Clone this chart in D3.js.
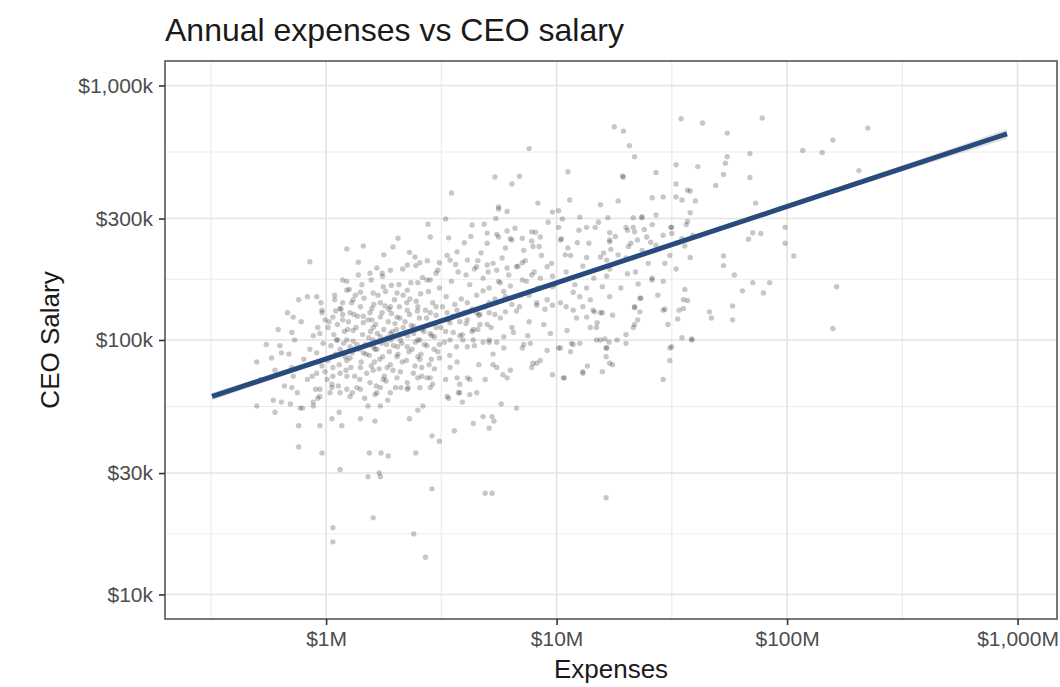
<!DOCTYPE html>
<html>
<head>
<meta charset="utf-8">
<script src="https://cdn.jsdelivr.net/npm/d3@7"></script>
<style>
  html, body { margin: 0; padding: 0; background: #fff; }
  svg { display: block; font-family: "Liberation Sans", Arial, Helvetica, sans-serif; }
</style>
</head>
<body>
<svg id="chart" width="1060" height="687"></svg>
<script>
// ---- Data (expenses in $M, CEO salary in $k) ----
const titleText = "Annual expenses vs CEO salary";
const xTitle = "Expenses";
const yTitle = "CEO Salary";

const xTickValues = [1, 10, 100, 1000];
const xTickLabels = ["$1M", "$10M", "$100M", "$1,000M"];
const yTickValues = [10, 30, 100, 300, 1000];
const yTickLabels = ["$10k", "$30k", "$100k", "$300k", "$1,000k"];

// linear fit on log-log scale, with its confidence band
const smoothExpenses = [0.32, 3, 30, 300, 900];
const smoothFit      = [60, 117, 233, 465, 646];
const smoothLower    = [58, 115.5, 230, 452, 618];
const smoothUpper    = [62, 118.5, 236, 478, 675];

// organisations: [expenses $M, CEO salary $k]
const points = [
 [17.8,688],[19.5,662],[20.7,580],[21.8,525],[34.7,740],[43,712],[78,745],[55,650],[158,610],[224,680],
 [117,555],[142,545],[69,540],[55,525],[54,495],[33,488],[41,480],[19.5,437],[27,455],[53,447],
 [69,435],[205,463],[49,405],[33,410],[37,388],[38,385],[26,362],[29,365],[33,365],[35,355],
 [40,352],[18.5,352],[15.5,340],[38,316],[73,345],[27,310],[21.5,302],[23.5,305],[16.7,302],[37,292],
 [36.5,284],[31.3,277],[26,284],[98,277],[98,240],[71,264],[77,262],[68,249],[31.6,262],[24,272],
 [21.8,266],[20.3,270],[17,264],[17,247],[36,234],[25.6,242],[17.2,227],[53,214],[53,196],[107,214],
 [59,180],[29.5,200],[20.3,182],[16.5,178],[15.8,162],[26,175],[22.6,166],[36,158],[37,143],[164,162],
 [71,168],[84,168],[64,156],[79,153],[23.2,146],[21.8,135],[23,129],[29.5,132],[35.5,133],[58,136],
 [46,129],[47,122],[33.5,121],[58,120],[15.5,128],[21.5,112],[30.4,115],[158,111],[20,105],[20,97],
 [16.2,101],[16.9,98],[35,102],[38.5,101],[17.5,80],[16.4,86],[31.6,94],[31,83],[29,70],
 [7.6,565],[11.2,458],[5.4,437],[6.9,440],[6.4,410],[3.5,378],[19.3,440],[5.6,333],[5.6,327],[8.3,345],
 [9.6,318],[10.2,322],[11.4,355],[2.77,285],[3.3,299],[4.3,283],[2.83,254],[3.4,252],[3.98,241],[5.0,263],
 [5.6,254],[6.1,268],[6.4,247],[7.1,251],[7.8,266],[8.5,254],[7.9,233],[8.4,233],[10.2,277],[10.4,247],
 [10.6,299],[12.6,304],[13.5,277],[14.7,277],[20,277],[21.5,277],[23.4,302],[17,243],[12.3,241],[11.2,230],
 [10.9,216],[13.5,211],[15.5,212],[16.5,206],[18.5,216],[20.5,233],[22.4,247],[24.6,254],[29,258],[31.6,277],
 [39,258],[33,240],[38,211],
 [1.45,234],[1.23,170],[1.38,202],[1.66,192],[1.78,216],[1.95,232],[2.05,251],[2.3,221],[2.43,212],[2.55,201],
 [2.25,197],[1.9,188],[1.75,183],[1.55,183],[1.41,154],[1.6,153],[1.77,162],[2.03,153],[2.25,157],[2.5,168],
 [2.74,172],[3.0,183],[3.1,201],[3.45,206],[3.7,222],[4.1,206],[4.5,194],[5.0,197],[5.5,188],[6.1,192],
 [6.7,194],[7.1,201],[7.8,180],[8.5,175],[9.1,194],[9.6,178],[9.6,162],[8.2,140],[9.1,144],[10.4,140],
 [11.8,154],[12.6,148],[14,144],[14.4,131],[15.8,128],[17,148],[13.5,123],[11.8,131],[11.1,109],[9.4,106],
 [10.4,93],[11.8,96],[12.6,97],[14.9,112],[14.9,100],[16.5,93],[18.3,100],[21.8,134],[23,146],[25.9,172],
 [29,131],[31,93],[34,131],[35.5,144],[38.7,100],[17,81],[13.6,79],[13,74],[10.7,71],[9.6,73],
 [8.2,81],[7.8,78],[7.1,93],[6.5,107],[5.9,103],[5.5,98],[5.1,100],[4.8,98],[4.35,100],[4.1,94],
 [3.9,105],[3.45,100],[3.1,85],[3.45,78],[3.7,71],[4.1,71],[4.6,80],[5.3,80],[5.85,73],[6.3,76],
 [4.2,61],[3.75,62],[3.35,60],[4.5,62],[2.9,67],[2.74,71],[2.6,78],[2.5,86],[2.25,94],[2.4,106],
 [2.16,112],[2.03,123],[2.25,131],[2.5,135],[2.83,128],[3.0,135],[3.35,128],[3.7,131],[4.1,120],[4.5,128],
 [5.1,128],[5.0,115],[4.35,110],[3.45,117],[3.0,112],[2.83,106],[2.55,100],[2.1,100],[1.9,106],[1.72,103],
 [1.6,94],[1.45,89],[1.3,89],[1.23,83],[1.41,78],[1.6,76],[1.84,78],[2.03,86],[2.03,71],[1.77,70],
 [1.55,68],[1.36,65],[1.23,64],[1.66,62],[1.9,62],[2.25,64],[2.5,71],[1.27,128],[1.41,135],[1.55,128],
 [1.72,140],[1.9,135],[1.31,144],[1.18,140],[1.18,120],[1.31,109],[1.45,117],[1.6,112],[1.23,100],
 [0.5,82],[0.58,85],[0.63,95],[0.64,89],[0.68,128],[0.72,123],[0.71,107],[0.71,65],[0.59,58],[0.64,57],
 [0.5,55],[0.6,52],[0.79,54],[0.88,55],[0.76,46],[0.94,46],[0.76,38],[0.96,36],[0.96,131],[0.94,106],
 [0.91,89],[0.87,72],[0.94,64],[0.92,59],[1.06,49],[1.14,52],[1.17,46],[1.41,49],[1.52,55],[1.72,55],
 [1.63,48],[1.54,36],[1.73,36],[1.86,35],[2.45,36],[2.3,49],[2.5,53],[2.63,55],[2.88,42],[3.1,40],
 [3.4,59],[3.6,44],[3.8,62],[3.9,57],[4.35,47],[4.8,50],[5.25,50],[5.35,48],[5.1,45],[5.75,56],
 [6.7,54],[1.15,31],[1.52,29],[1.7,30],[1.72,29],[2.88,26],[4.9,25],[5.25,25],[16.4,24],[1.07,18.3],
 [1.07,16.1],[1.6,20],[2.4,17.3],[2.7,14],[10.8,71],[13,75],[15.8,75],[16.4,93],[21.8,115],[15.5,100],
 [15,117],[14.6,129],[13,135],[11.5,90],[11.6,97],[10.2,93],[9.1,91],[7.9,81],[8.5,83],[7.7,97],
 [7.2,96],[5.9,93],[6.1,71],[5.5,78],[4.9,70],[4.2,70],[3.8,67],[2.83,71],[2.83,65],[2.55,65],
 [2.27,65],[2.11,65],[2.0,65],[1.72,65],[1.63,61],[1.41,64],[1.27,60],[1.15,62],[1.06,65],[9.6,137],
 [8.2,137],[6.9,135],[6.0,129],[4.65,126],[4.65,115],[5.1,98],
 [1.23,228],[0.85,203],[1.18,172],[1.23,157],[0.76,144],[0.83,148],[0.91,148],[1.09,144],[1.15,133],[0.96,128],
 [0.99,120],[1.07,123],[0.92,112],[1.02,112],[1.12,100],[1.27,94],[1.18,89],[0.71,78],[0.72,72],[0.91,74],
 [0.96,79],[1.01,70],[1.06,67],[1.07,78],[1.15,74],[1.23,72],[1.04,62],[0.94,60],[0.88,57],[0.77,54],
 [0.7,56],
 // dense core, $1M-$2M
 [1.05,95],[1.08,105],[1.1,88],[1.12,115],[1.14,80],[1.16,132],[1.19,97],[1.2,108],[1.22,76],[1.25,118],
 [1.27,85],[1.29,140],[1.31,99],[1.33,72],[1.35,112],[1.37,124],[1.39,92],[1.42,82],[1.44,105],[1.46,146],
 [1.48,96],[1.5,74],[1.52,120],[1.54,87],[1.56,108],[1.58,133],[1.6,100],[1.62,82],[1.64,115],[1.66,92],
 [1.68,150],[1.7,77],[1.72,123],[1.74,97],[1.76,86],[1.78,110],[1.8,136],[1.82,69],[1.84,102],[1.86,118],
 [1.88,90],[1.9,80],[1.92,127],[1.94,108],[1.96,95],[1.98,144],[1.13,66],[1.3,62],[1.47,59],[1.65,66],
 [1.85,58],[1.02,83],[1.18,126],[1.43,165],[1.57,172],[1.76,178],[1.92,164],[1.09,150],[1.26,158],[1.38,180],
 [1.03,118],[1.07,72],[1.11,100],[1.15,92],[1.21,86],[1.24,110],[1.28,78],[1.32,126],[1.36,96],[1.4,70],
 [1.45,124],[1.49,88],[1.53,102],[1.57,79],[1.61,138],[1.63,92],[1.67,106],[1.71,84],[1.75,128],[1.79,72],
 [1.83,96],[1.87,132],[1.91,100],[1.95,76],[1.99,116],[1.1,130],[1.34,150],[1.58,120],[1.81,155],
 // $2M-$4M
 [2.02,110],[2.05,88],[2.08,135],[2.1,75],[2.13,97],[2.16,150],[2.2,118],[2.23,83],[2.26,104],[2.3,126],
 [2.33,168],[2.36,92],[2.4,113],[2.43,79],[2.46,142],[2.5,100],[2.54,122],[2.58,88],[2.62,176],[2.66,108],
 [2.7,131],[2.74,95],[2.78,155],[2.82,115],[2.86,84],[2.9,140],[2.95,103],[3.0,125],[3.05,90],[3.1,160],
 [3.15,112],[3.2,135],[3.26,98],[3.32,148],[3.38,120],[3.44,87],[3.5,170],[3.56,107],[3.62,138],[3.68,94],
 [3.74,185],[3.8,118],[3.86,145],[3.92,100],[3.98,128],[2.15,190],[2.45,196],[2.75,205],[3.05,188],[3.35,215],
 [3.65,198],[2.25,68],[2.6,72],[2.95,77],[3.3,70],[3.7,82],
 [2.04,94],[2.09,122],[2.14,82],[2.19,106],[2.24,140],[2.29,90],[2.34,114],[2.39,74],[2.44,98],[2.49,130],
 [2.55,84],[2.61,110],[2.67,96],[2.73,122],[2.8,80],[2.87,104],[2.94,92],[2.07,165],[2.31,145],[2.57,152],
 [2.83,172],[3.1,96],[3.3,108],[3.55,124],[3.8,104],
 // $4M-$10M
 [4.1,140],[4.2,165],[4.3,108],[4.4,190],[4.5,150],[4.6,125],[4.7,220],[4.8,175],[4.9,135],[5.0,240],
 [5.1,160],[5.2,112],[5.3,200],[5.4,145],[5.5,260],[5.6,170],[5.7,122],[5.8,210],[5.9,155],[6.0,230],
 [6.2,180],[6.4,138],[6.6,275],[6.8,195],[7.0,150],[7.2,225],[7.4,170],[7.6,118],[7.8,245],[8.0,185],
 [8.3,160],[8.6,215],[8.9,132],[9.2,290],[9.5,200],[9.8,165],[4.25,255],[4.85,285],[5.45,300],[6.1,320],
 [4.05,180],[4.55,205],[5.05,185],[6.3,250],[7.3,205],[8.1,265],[4.4,95],[5.3,88],[6.4,112],[7.5,104],
 [8.8,115],[4.05,116],[4.3,132],[4.55,110],[4.8,156],[5.1,140],[5.4,126],[5.7,168],[6.0,148],[6.3,163],
 [6.7,130],[7.1,172],[7.6,150],
 // $10M-$40M
 [10.5,250],[11,185],[11.5,215],[12,165],[12.5,270],[13,195],[13.8,240],[14.5,175],[15.2,290],[16,220],
 [17,190],[18,255],[19,160],[20,210],[21,240],[22,185],[23.5,225],[25,200],[27,235],[29,170],
 [31,215],[33,190],[35,250],[12.2,122],[14,112],[17.5,125],[22.5,120],[27.5,150],[11,135],[13.5,160],
 // $0.5M-$1M
 [0.52,70],[0.55,96],[0.6,76],[0.62,110],[0.66,66],[0.69,88],[0.73,100],[0.75,62],[0.78,118],[0.8,84],
 [0.83,70],[0.85,92],[0.88,104],[0.9,64],[0.93,82],[0.95,140],[0.97,97],[0.99,75]
];

// ---- Layout ----
const svg = d3.select("#chart");
const panel = { left: 165, top: 61, right: 1057, bottom: 619 };

const x = d3.scaleLog().domain([0.2, 1483]).range([panel.left, panel.right]);
const y = d3.scaleLog().domain([8.01, 1248]).range([panel.bottom, panel.top]);

// minor grid positions: midpoints (in log space) between major breaks
function minorBetween(vals) {
  const out = [];
  for (let i = 0; i < vals.length - 1; i++) out.push(Math.sqrt(vals[i] * vals[i + 1]));
  return out;
}
const xMinor = minorBetween([0.1].concat(xTickValues)).filter(v => v > 0.2);
const yMinor = minorBetween(yTickValues);

const grid = svg.append("g");
grid.selectAll(".xminor").data(xMinor).join("line")
  .attr("x1", d => x(d)).attr("x2", d => x(d))
  .attr("y1", panel.top).attr("y2", panel.bottom)
  .attr("stroke", "#ececec").attr("stroke-width", 1.2);
grid.selectAll(".yminor").data(yMinor).join("line")
  .attr("y1", d => y(d)).attr("y2", d => y(d))
  .attr("x1", panel.left).attr("x2", panel.right)
  .attr("stroke", "#ececec").attr("stroke-width", 1.2);
grid.selectAll(".xmajor").data(xTickValues).join("line")
  .attr("x1", d => x(d)).attr("x2", d => x(d))
  .attr("y1", panel.top).attr("y2", panel.bottom)
  .attr("stroke", "#e3e3e3").attr("stroke-width", 1.6);
grid.selectAll(".ymajor").data(yTickValues).join("line")
  .attr("y1", d => y(d)).attr("y2", d => y(d))
  .attr("x1", panel.left).attr("x2", panel.right)
  .attr("stroke", "#e3e3e3").attr("stroke-width", 1.6);

// points
svg.append("g").selectAll("circle").data(points).join("circle")
  .attr("cx", d => x(d[0])).attr("cy", d => y(d[1]))
  .attr("r", 2.7)
  .attr("fill", "#000").attr("fill-opacity", 0.22);

// smooth band + line
const smooth = smoothExpenses.map((e, i) => ({ e, fit: smoothFit[i], lo: smoothLower[i], hi: smoothUpper[i] }));
svg.append("path").datum(smooth)
  .attr("d", d3.area().x(d => x(d.e)).y0(d => y(d.lo)).y1(d => y(d.hi)).curve(d3.curveMonotoneX))
  .attr("fill", "#999").attr("fill-opacity", 0.3);
svg.append("path").datum(smooth)
  .attr("d", d3.line().x(d => x(d.e)).y(d => y(d.fit)).curve(d3.curveMonotoneX))
  .attr("fill", "none").attr("stroke", "#284b7e").attr("stroke-width", 5).attr("stroke-linecap", "butt");

// panel border
svg.append("rect")
  .attr("x", panel.left).attr("y", panel.top)
  .attr("width", panel.right - panel.left).attr("height", panel.bottom - panel.top)
  .attr("fill", "none").attr("stroke", "#555").attr("stroke-width", 1.6);

// axes
const xAxis = d3.axisBottom(x).tickValues(xTickValues)
  .tickFormat((d, i) => xTickLabels[i]).tickSize(6).tickPadding(6);
const gx = svg.append("g").attr("transform", `translate(0,${panel.bottom})`).call(xAxis);
gx.select(".domain").remove();
gx.selectAll(".tick line").attr("stroke", "#333").attr("stroke-width", 1.6);
gx.selectAll(".tick text").attr("fill", "#4d4d4d").style("font-size", "21px")
  .style("font-family", "'Liberation Sans', Arial, sans-serif");

const yAxis = d3.axisLeft(y).tickValues(yTickValues)
  .tickFormat((d, i) => yTickLabels[i]).tickSize(6).tickPadding(6);
const gy = svg.append("g").attr("transform", `translate(${panel.left},0)`).call(yAxis);
gy.select(".domain").remove();
gy.selectAll(".tick line").attr("stroke", "#333").attr("stroke-width", 1.6);
gy.selectAll(".tick text").attr("fill", "#4d4d4d").style("font-size", "21px")
  .style("font-family", "'Liberation Sans', Arial, sans-serif");

// titles
svg.append("text").attr("x", panel.left).attr("y", 41)
  .attr("fill", "#1a1a1a").style("font-size", "32px").text(titleText);
svg.append("text").attr("x", (panel.left + panel.right) / 2).attr("y", 678)
  .attr("text-anchor", "middle").attr("fill", "#1a1a1a").style("font-size", "26px").text(xTitle);
svg.append("text")
  .attr("transform", `translate(59,${(panel.top + panel.bottom) / 2}) rotate(-90)`)
  .attr("text-anchor", "middle").attr("fill", "#1a1a1a").style("font-size", "26px").text(yTitle);
</script>
</body>
</html>
